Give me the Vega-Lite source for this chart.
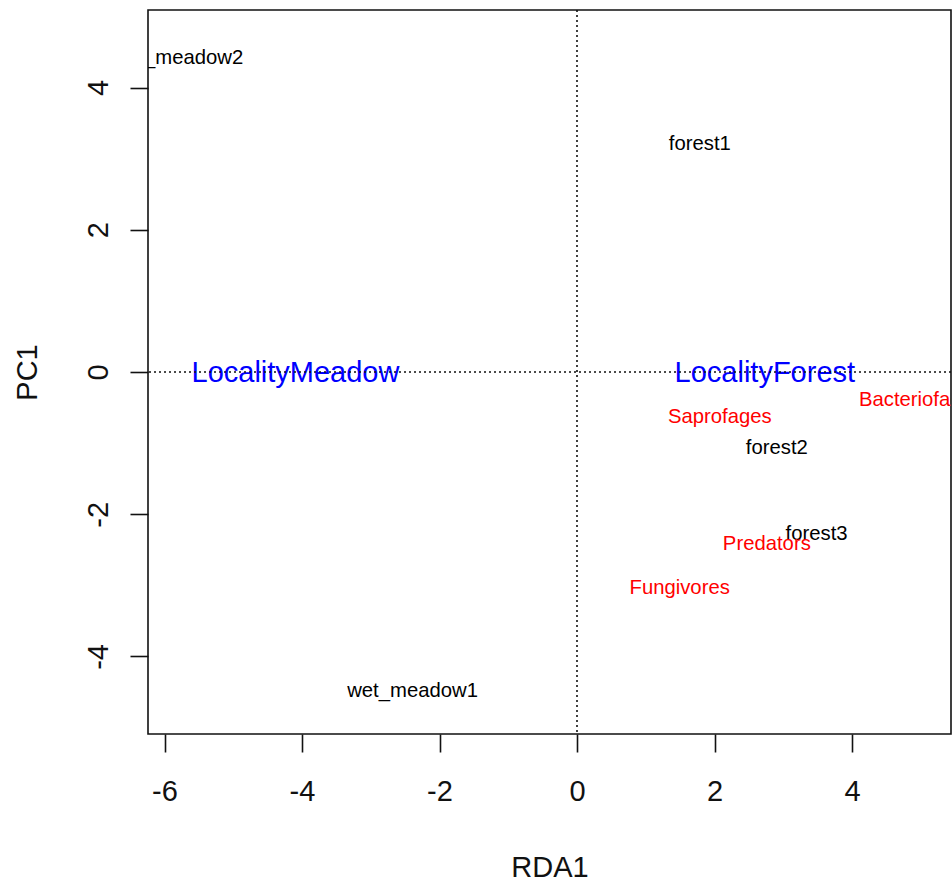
{
  "$schema": "https://vega.github.io/schema/vega-lite/v6.json",
  "autosize": "none",
  "width": 803,
  "height": 724,
  "padding": {"left": 148, "top": 10, "right": 1, "bottom": 149},
  "background": "white",
  "config": {
    "view": {"stroke": "#111111", "strokeWidth": 1.6},
    "font": "Liberation Sans"
  },
  "datasets": {
    "pts": [
      {"label": "wet_meadow2", "x": -5.805, "y": 4.433, "type": "site"},
      {"label": "forest1", "x": 1.786, "y": 3.217, "type": "site"},
      {"label": "forest2", "x": 2.907, "y": -1.052, "type": "site"},
      {"label": "forest3", "x": 3.485, "y": -2.269, "type": "site"},
      {"label": "wet_meadow1", "x": -2.392, "y": -4.47, "type": "site"},
      {"label": "Bacteriofages", "x": 5.003, "y": -0.384, "type": "species"},
      {"label": "Saprofages", "x": 2.078, "y": -0.623, "type": "species"},
      {"label": "Predators", "x": 2.761, "y": -2.402, "type": "species"},
      {"label": "Fungivores", "x": 1.493, "y": -3.024, "type": "species"},
      {"label": "LocalityMeadow", "x": -4.095, "y": 0.0, "type": "centroid"},
      {"label": "LocalityForest", "x": 2.732, "y": 0.0, "type": "centroid"}
    ],
    "zero": [{"v": 0}]
  },
  "layer": [
    {
      "data": {"name": "pts"},
      "transform": [{"filter": "datum.type === 'site'"}],
      "mark": {"type": "text", "clip": true, "fontSize": 20.3, "font": "Liberation Sans", "color": "black", "align": "center", "baseline": "middle", "dy": 1},
      "encoding": {
        "x": {
          "field": "x", "type": "quantitative",
          "scale": {"domain": [-6.24, 5.44], "nice": false, "zero": false},
          "axis": {
            "title": "RDA1", "values": [-6, -4, -2, 0, 2, 4], "labelExpr": "'' + datum.value", "domain": false, "grid": false,
            "ticks": true, "tickSize": 18, "tickWidth": 1.6, "tickColor": "#111111",
            "labelFontSize": 29, "labelFont": "Liberation Sans", "labelColor": "#111111",
            "labelPadding": 25, "labelFlush": false, "labelOverlap": false,
            "titleFontSize": 29, "titleFont": "Liberation Sans", "titleFontWeight": "normal", "titleColor": "#111111",
            "titleY": 142, "titleBaseline": "alphabetic", "titleAnchor": "middle"
          }
        },
        "y": {
          "field": "y", "type": "quantitative",
          "scale": {"domain": [-5.09, 5.09], "nice": false, "zero": false},
          "axis": {
            "title": "PC1", "values": [-4, -2, 0, 2, 4], "labelExpr": "'' + datum.value", "domain": false, "grid": false,
            "ticks": true, "tickSize": 18, "tickWidth": 1.6, "tickColor": "#111111",
            "labelFontSize": 29, "labelFont": "Liberation Sans", "labelColor": "#111111",
            "labelAngle": 270, "labelAlign": "center", "labelBaseline": "alphabetic",
            "labelPadding": 23, "labelFlush": false, "labelOverlap": false,
            "titleFontSize": 29, "titleFont": "Liberation Sans", "titleFontWeight": "normal", "titleColor": "#111111",
            "titleAngle": 270, "titleX": -112, "titleY": 362, "titleAlign": "center", "titleBaseline": "alphabetic"
          }
        },
        "text": {"field": "label"}
      }
    },
    {
      "data": {"name": "pts"},
      "transform": [{"filter": "datum.type === 'species'"}],
      "mark": {"type": "text", "clip": true, "fontSize": 20.3, "font": "Liberation Sans", "color": "#FF0000", "align": "center", "baseline": "middle", "dy": 1},
      "encoding": {
        "x": {"field": "x", "type": "quantitative"},
        "y": {"field": "y", "type": "quantitative"},
        "text": {"field": "label"}
      }
    },
    {
      "data": {"name": "pts"},
      "transform": [{"filter": "datum.type === 'centroid'"}],
      "mark": {"type": "text", "clip": true, "fontSize": 29, "font": "Liberation Sans", "color": "#0000FF", "align": "center", "baseline": "middle", "dy": 1},
      "encoding": {
        "x": {"field": "x", "type": "quantitative"},
        "y": {"field": "y", "type": "quantitative"},
        "text": {"field": "label"}
      }
    },
    {
      "data": {"name": "zero"},
      "mark": {"type": "rule", "color": "#111111", "strokeWidth": 1.6, "strokeDash": [2, 3]},
      "encoding": {"x": {"field": "v", "type": "quantitative"}}
    },
    {
      "data": {"name": "zero"},
      "mark": {"type": "rule", "color": "#111111", "strokeWidth": 1.6, "strokeDash": [2, 3]},
      "encoding": {"y": {"field": "v", "type": "quantitative"}}
    }
  ]
}
